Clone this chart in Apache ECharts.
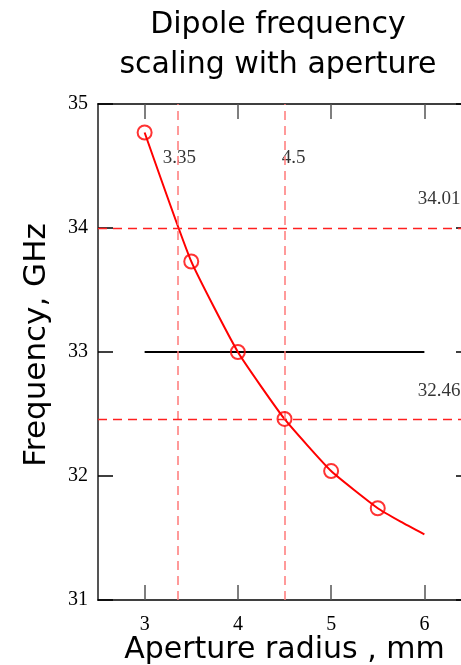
<!DOCTYPE html>
<html>
<head>
<meta charset="utf-8">
<script src="https://cdn.jsdelivr.net/npm/echarts@6/dist/echarts.min.js"></script>
<style>html,body{margin:0;padding:0;background:#fff}#c{width:461px;height:665px}</style>
</head>
<body>
<div id="c"></div>
<script>
// ---- data ----
const titleText = 'Dipole frequency\nscaling with aperture';
const xName = 'Aperture radius , mm';
const yName = 'Frequency, GHz';
const xTicks = [3, 4, 5, 6];
const curveX = [3, 3.5, 4, 4.5, 5, 5.5, 5.75, 6];
const curveY = [34.77, 33.73, 33.0, 32.46, 32.04, 31.74, 31.63, 31.53];
const markerX = [3, 3.5, 4, 4.5, 5, 5.5];
const markerY = [34.77, 33.73, 33.0, 32.46, 32.04, 31.74];
const refLineX = [3, 6];
const refLineY = [33, 33];
const vLines = [3.35, 4.5];
const vLabels = ['3.35', '4.5'];
const hLines = [34.0, 32.46];
const hLabels = ['34.01', '32.46'];

const xMin = 2.5, xMax = 6.5, yMin = 31, yMax = 35;
const serif = 'Liberation Serif';
const sans = 'DejaVu Sans';

const chart = echarts.init(document.getElementById('c'), null, {renderer: 'canvas'});

const tickStyle = {inside: true, length: 15, lineStyle: {color: '#555', width: 1.5}};

const vLabelOffsets = [[2, 54], [9, 54]];
const hLabelOffsets = [[-32, -29], [-32, -28]];

chart.setOption({
  animation: false,
  backgroundColor: '#fff',
  title: {
    text: titleText,
    left: 273, top: 0, textAlign: 'center',
    textStyle: {fontFamily: sans, fontSize: 30, fontWeight: 'normal', color: '#000', lineHeight: 40}
  },
  grid: {left: 98, top: 104, right: -10, bottom: 65, containLabel: false, outerBoundsMode: 'none'},
  xAxis: [
    {
      type: 'value', position: 'bottom', min: xMin, max: xMax,
      axisLine: {lineStyle: {color: '#000', width: 1.5}},
      axisTick: Object.assign({customValues: xTicks}, tickStyle),
      axisLabel: {customValues: xTicks, margin: 15, fontFamily: serif, fontSize: 20, color: '#000'},
      splitLine: {show: false},
      name: xName, nameLocation: 'middle', nameGap: 35, nameMoveOverlap: false,
      nameTextStyle: {fontFamily: sans, fontSize: 30, color: '#000'}
    },
    {
      type: 'value', position: 'top', min: xMin, max: xMax,
      axisLine: {lineStyle: {color: '#000', width: 1.5}},
      axisTick: Object.assign({customValues: xTicks}, tickStyle),
      axisLabel: {show: false},
      splitLine: {show: false}
    }
  ],
  yAxis: [
    {
      type: 'value', position: 'left', min: yMin, max: yMax, interval: 1,
      axisLine: {lineStyle: {color: '#555', width: 2}},
      axisTick: Object.assign({}, tickStyle, {lineStyle: {color: '#000', width: 1.5}}),
      axisLabel: {margin: 10, fontFamily: serif, fontSize: 20, color: '#000'},
      splitLine: {show: false},
      name: yName, nameLocation: 'middle', nameGap: 46, nameRotate: 90, nameMoveOverlap: false,
      nameTextStyle: {fontFamily: sans, fontSize: 31, color: '#000', padding: [0, 0, 0, 14]}
    },
    {
      type: 'value', position: 'right', min: yMin, max: yMax, interval: 1,
      axisLine: {lineStyle: {color: '#000', width: 1.5}},
      axisTick: Object.assign({}, tickStyle, {lineStyle: {color: '#000', width: 1.5}}),
      axisLabel: {show: false},
      splitLine: {show: false}
    }
  ],
  series: [
    {
      type: 'line', name: 'guides', data: [], silent: true,
      markLine: {
        silent: true, symbol: 'none', animation: false,
        label: {show: false},
        data: [
          ...vLines.map(v => ({xAxis: v, lineStyle: {type: [9, 6], color: '#ff7a7a', width: 1.5}})),
          ...hLines.map(v => ({yAxis: v, lineStyle: {type: [9, 6], color: '#ff2020', width: 1.3}}))
        ]
      }
    },
    {
      type: 'line', name: 'ref', data: refLineX.map((x, i) => [x, refLineY[i]]),
      showSymbol: false, lineStyle: {color: '#000', width: 2}, z: 3
    },
    {
      type: 'line', name: 'curve', data: curveX.map((x, i) => [x, curveY[i]]),
      smooth: 0.15, showSymbol: false,
      lineStyle: {color: '#ff0000', width: 2}, z: 4
    },
    {
      type: 'scatter', name: 'points', data: markerX.map((x, i) => [x, markerY[i]]),
      symbol: 'circle', symbolSize: 14,
      itemStyle: {color: 'rgba(0,0,0,0)', borderColor: '#ff0000', borderWidth: 2}, z: 5
    },
    {
      type: 'scatter', name: 'vlabels', symbolSize: 0, silent: true,
      data: vLines.map((v, i) => ({value: [v, yMax], label: {offset: vLabelOffsets[i]}})),
      label: {show: true, position: 'inside', formatter: p => vLabels[p.dataIndex],
              fontFamily: serif, fontSize: 19, color: '#000'}
    },
    {
      type: 'scatter', name: 'hlabels', symbolSize: 0, silent: true,
      data: hLines.map((v, i) => ({value: [xMax, v], label: {offset: hLabelOffsets[i]}})),
      label: {show: true, position: 'inside', formatter: p => hLabels[p.dataIndex],
              fontFamily: serif, fontSize: 19, color: '#000'}
    }
  ]
});
</script>
</body>
</html>
